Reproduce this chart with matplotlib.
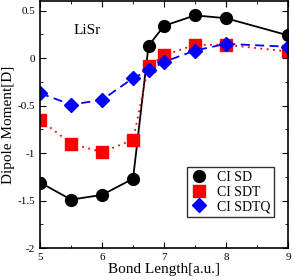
import matplotlib
matplotlib.use("Agg")
import matplotlib.pyplot as plt
from matplotlib.ticker import MultipleLocator

plt.rcParams['font.family'] = ['Liberation Serif', 'DejaVu Serif']

x = [5, 5.5, 6, 6.5, 6.75, 7, 7.5, 8, 9]
ci_sd = [-1.31, -1.49, -1.44, -1.27, 0.13, 0.34, 0.45, 0.42, 0.24]
ci_sdt = [-0.65, -0.90, -0.99, -0.86, -0.085, 0.03, 0.14, 0.14, 0.07]
ci_sdtq = [-0.37, -0.49, -0.44, -0.21, -0.13, -0.04, 0.08, 0.15, 0.12]

fig = plt.figure(figsize=(2.95, 2.80), dpi=100)
ax = fig.add_axes([0.136, 0.114, 0.840, 0.882])

ax.plot(x, ci_sd, color='black', lw=1.3, ls='-', marker='o', ms=8.5, label='CI SD')
ax.plot(x, ci_sdt, color='red', lw=1.3, ls=(0, (1, 2.5)), marker='s', ms=8, label='CI SDT')
ax.plot(x, ci_sdtq, color='blue', lw=1.3, ls=(0, (5, 3)), marker='D', ms=7, label='CI SDTQ')

ax.set_xlim(5, 9)
ax.set_ylim(-2, 0.6)
ax.xaxis.set_major_locator(MultipleLocator(1))
ax.xaxis.set_minor_locator(MultipleLocator(0.5))
ax.yaxis.set_major_locator(MultipleLocator(0.5))
ax.yaxis.set_minor_locator(MultipleLocator(0.25))
ax.set_yticks([-2, -1.5, -1, -0.5, 0, 0.5])
ax.set_yticklabels(['-2', '-1.5', '-1', '-0.5', '0', '0.5'])
ax.tick_params(which='both', direction='in', top=True, right=True, labelsize=8)
ax.tick_params(which='major', length=4)
ax.tick_params(which='minor', length=2)
for s in ax.spines.values():
    s.set_linewidth(1.2)

ax.set_xlabel('Bond Length[a.u.]', fontsize=11, labelpad=1)
ax.set_ylabel('Dipole Moment[D]', fontsize=11, labelpad=2)
ax.text(5.76, 0.29, 'LiSr', fontsize=11, ha='center', va='center')

leg = ax.legend(loc='lower right', bbox_to_anchor=(0.945, 0.125), fontsize=10,
                frameon=True, fancybox=False, edgecolor='black', handlelength=1.0,
                handletextpad=0.8, borderpad=0.3, labelspacing=0.1, borderaxespad=0)
leg.get_frame().set_linewidth(1.0)
for h in leg.get_lines():
    h.set_linestyle('None')

fig.savefig('out.png', dpi=100)
